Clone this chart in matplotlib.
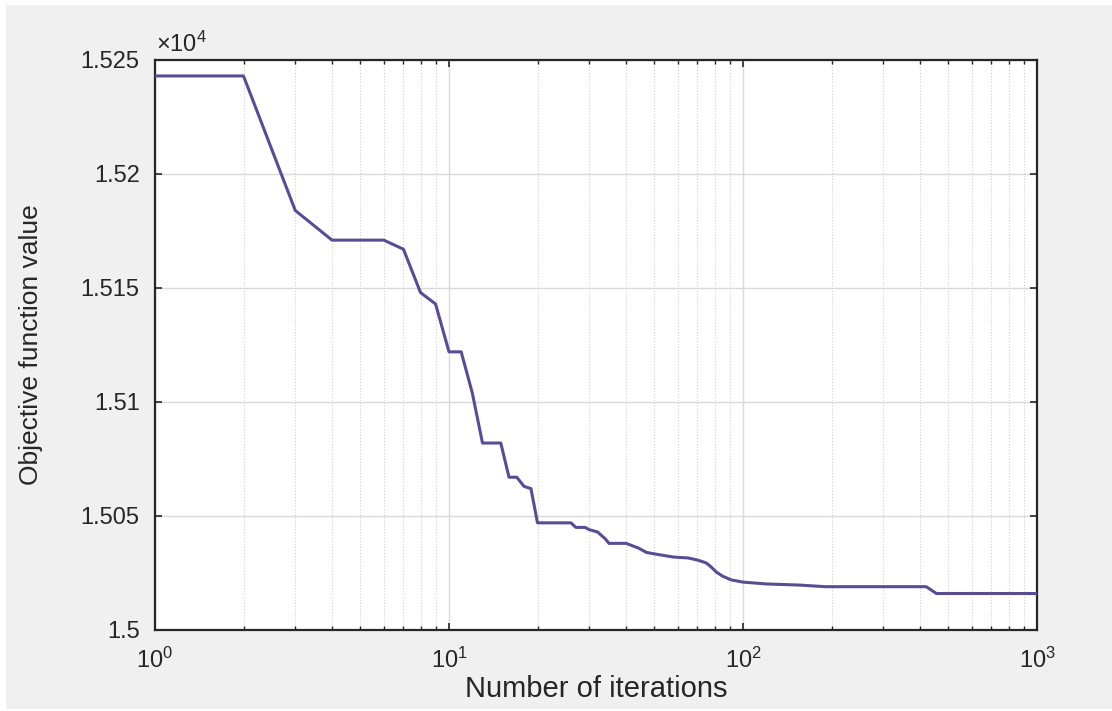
import matplotlib
matplotlib.use("Agg")
import matplotlib.pyplot as plt
from matplotlib.ticker import FixedLocator, FuncFormatter, LogLocator, NullFormatter
from matplotlib.patches import Rectangle

iterations = [1, 2, 3, 4, 6, 7, 8, 9, 10, 11, 12, 13, 15, 16, 17, 18, 19, 20, 26, 27,
              29, 30, 32, 34, 35, 40, 44, 47, 52, 58, 65, 70, 75, 78, 81, 85, 91, 100,
              120, 156, 190, 420, 455, 1000]
objective = [15243, 15243, 15184, 15171, 15171, 15167, 15148, 15143, 15122, 15122,
             15104, 15082, 15082, 15067, 15067, 15063, 15062, 15047, 15047, 15045,
             15045, 15044, 15043, 15040, 15038, 15038, 15036, 15034, 15033, 15032,
             15031.6, 15030.7, 15029.4, 15027.6, 15025.5, 15023.7, 15022, 15021,
             15020.2, 15019.7, 15019, 15019, 15016, 15016]
y_ticks = [15000, 15050, 15100, 15150, 15200, 15250]

plt.rcParams['font.family'] = ['Liberation Sans', 'DejaVu Sans']
plt.rcParams['mathtext.fontset'] = 'custom'
plt.rcParams['mathtext.rm'] = 'Liberation Sans'
plt.rcParams['mathtext.it'] = 'Liberation Sans'

fig = plt.figure(figsize=(11.12, 7.11), dpi=100, facecolor='white')
fig.patches.append(Rectangle((6/1112, 2/711), 1 - 6/1112, 1 - 7/711,
                             transform=fig.transFigure, facecolor='#f0f0f0',
                             edgecolor='none', zorder=-10))
ax = fig.add_axes([155/1112, 1 - 630/711, (1037 - 155)/1112, (630 - 60)/711])
ax.set_facecolor('white')

ax.plot(iterations, objective, color='#5a4c94', lw=2.2, zorder=3)
ax.set_xscale('log')
ax.set_xlim(1, 1000)
ax.set_ylim(15000, 15250)

ax.yaxis.set_major_locator(FixedLocator(y_ticks))
ax.yaxis.set_major_formatter(FuncFormatter(lambda v, p: f"{v/1e4:g}"))
ax.xaxis.set_minor_locator(LogLocator(base=10, subs=range(2, 10), numticks=20))
ax.xaxis.set_minor_formatter(NullFormatter())

ax.grid(True, which='major', color='#d9d9d9', lw=1.0, ls='-', zorder=0)
ax.grid(True, which='minor', axis='x', color='#cfcfcf', lw=0.8, ls=':', zorder=0)

ax.tick_params(which='both', direction='in', top=True, right=True, colors='#262626',
               labelsize=17)
ax.tick_params(which='major', length=5, width=1.2)
ax.tick_params(which='minor', length=3, width=1.0)
ax.tick_params(axis='y', pad=11)
ax.tick_params(axis='x', pad=13)
for s in ax.spines.values():
    s.set_color('#262626')
    s.set_linewidth(1.6)

ax.set_xlabel('Number of iterations', fontsize=21, color='#262626', labelpad=1)
ax.set_ylabel('Objective function value', fontsize=19, color='#262626', labelpad=27)
fig.text(156/1112, 1 - 44/711, r'$\times10^{4}$', fontsize=17, color='#262626',
         ha='left', va='center')

fig.savefig('out.png', dpi=100, facecolor=fig.get_facecolor())
